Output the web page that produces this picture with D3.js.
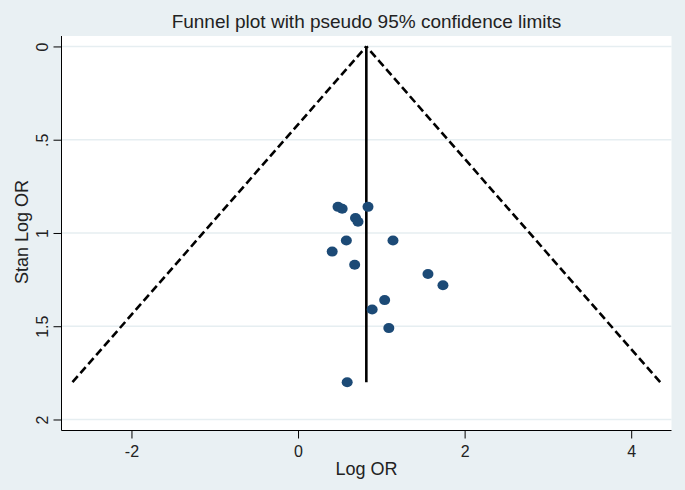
<!DOCTYPE html>
<meta charset="utf-8">
<title>Funnel plot</title>
<style>
  body { margin: 0; background: #e9f0f3; }
  text { font-family: "Liberation Sans", Arial, sans-serif; fill: #222; }
  .grid line { stroke: #e6eef1; stroke-width: 1.5px; }
  .axis path, .axis line { stroke: #000; stroke-width: 1px; }
</style>
<body>
<script src="https://d3js.org/d3.v7.min.js"></script>
<script>

var width = 685,
    height = 490;

// study estimates
var logOR   = [0.48, 0.53, 0.84, 0.69, 0.72, 0.58, 1.14, 0.41, 0.68, 1.56, 1.74, 1.04, 0.89, 1.09, 0.59];
var seLogOR = [0.86, 0.87, 0.86, 0.92, 0.94, 1.04, 1.04, 1.10, 1.17, 1.22, 1.28, 1.36, 1.41, 1.51, 1.80];

var pooled = 0.82;     // fixed-effect estimate (vertical line)
var seMax = 1.8;       // bottom of the funnel
var z = 1.96;

var xTicks = [-2, 0, 2, 4];
var xTickLabels = ["-2", "0", "2", "4"];
var yTicks = [0, 0.5, 1, 1.5, 2];
var yTickLabels = ["0", ".5", "1", "1.5", "2"];

var plot = {left: 61.5, right: 671.5, top: 36, bottom: 430.5};

var x = d3.scaleLinear().domain([-2.84, 4.484]).range([plot.left, plot.right]);
var y = d3.scaleLinear().domain([-0.056, 2.059]).range([plot.top, plot.bottom]);

var svg = d3.select("body").append("svg")
    .attr("width", width)
    .attr("height", height);

svg.append("rect")
    .attr("width", width).attr("height", height)
    .attr("fill", "#e9f0f3");

svg.append("rect")
    .attr("x", plot.left).attr("y", plot.top)
    .attr("width", plot.right - plot.left)
    .attr("height", plot.bottom - plot.top)
    .attr("fill", "#fff");

// horizontal grid
svg.append("g").attr("class", "grid")
  .selectAll("line").data(yTicks).enter().append("line")
    .attr("x1", plot.left).attr("x2", plot.right)
    .attr("y1", function(d) { return y(d); })
    .attr("y2", function(d) { return y(d); });

// axes
var xAxis = svg.append("g").attr("class", "axis")
    .attr("transform", "translate(0," + plot.bottom + ")")
    .call(d3.axisBottom(x).tickValues(xTicks).tickSize(8).tickSizeOuter(0)
      .tickFormat(function(d, i) { return xTickLabels[i]; }));
xAxis.selectAll("text")
    .style("font-size", "16px")
    .style("font-family", "'Liberation Sans', Arial, sans-serif")
    .attr("y", 11).attr("dy", "0.95em");

var yAxis = svg.append("g").attr("class", "axis")
    .attr("transform", "translate(" + plot.left + ",0)")
    .call(d3.axisLeft(y).tickValues(yTicks).tickSize(8).tickSizeOuter(0)
      .tickFormat(function(d, i) { return yTickLabels[i]; }));
yAxis.selectAll("text")
    .style("font-size", "16px")
    .style("font-family", "'Liberation Sans', Arial, sans-serif")
    .attr("text-anchor", "middle")
    .attr("x", 0).attr("dy", 0)
    .attr("transform", "translate(-14,0) rotate(-90)");
xAxis.select(".domain").attr("d", "M" + plot.left + ",0H" + plot.right);
yAxis.select(".domain").attr("d", "M0," + plot.top + "V" + plot.bottom);

// funnel (pseudo 95% limits)
var funnel = [
  [[pooled - z * seMax, seMax], [pooled, 0]],
  [[pooled + z * seMax, seMax], [pooled, 0]]
];
var line = d3.line()
    .x(function(d) { return x(d[0]); })
    .y(function(d) { return y(d[1]); });

svg.selectAll(".funnel").data(funnel).enter().append("path")
    .attr("class", "funnel")
    .attr("d", line)
    .attr("fill", "none")
    .attr("stroke", "#000")
    .attr("stroke-width", 2.6)
    .attr("stroke-dasharray", "8,4");

svg.append("path")
    .attr("d", line([[pooled, 0], [pooled, seMax]]))
    .attr("stroke", "#000")
    .attr("stroke-width", 2.6);

// studies
svg.selectAll(".dot").data(logOR).enter().append("ellipse")
    .attr("class", "dot")
    .attr("cx", function(d) { return x(d); })
    .attr("cy", function(d, i) { return y(seLogOR[i]); })
    .attr("rx", 5.5).attr("ry", 5)
    .attr("fill", "#1c4a76");

// titles
svg.append("text")
    .attr("x", (plot.left + plot.right) / 2).attr("y", 28)
    .attr("text-anchor", "middle")
    .attr("font-size", 19)
    .text("Funnel plot with pseudo 95% confidence limits");

svg.append("text")
    .attr("x", (plot.left + plot.right) / 2).attr("y", 475)
    .attr("text-anchor", "middle")
    .attr("font-size", 18)
    .text("Log OR");

svg.append("text")
    .attr("transform", "translate(28,232) rotate(-90)")
    .attr("text-anchor", "middle")
    .attr("font-size", 18)
    .text("Stan Log OR");

</script>
</body>
